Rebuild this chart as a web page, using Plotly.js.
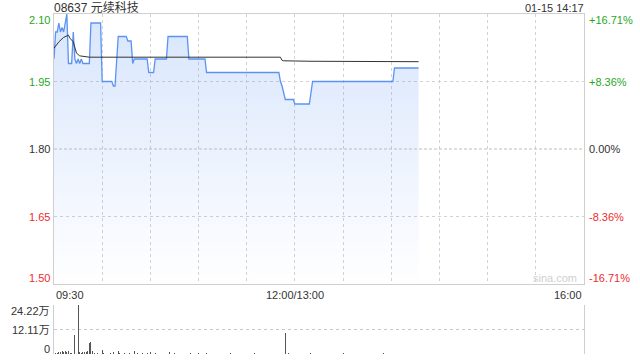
<!DOCTYPE html>
<html>
<head>
<meta charset="utf-8">
<script src="https://cdn.plot.ly/plotly-3.0.1.min.js"></script>
<style>html,body{margin:0;padding:0;background:#fff;}#chart{width:640px;height:360px;}</style>
</head>
<body>
<div id="chart"></div>
<script>
// ---- data (minutes since 09:30, lunch break removed; 150 = 12:00/13:00) ----
var title = "08637 元续科技";
var stamp = "01-15 14:17";
var priceMin = [0,1,2,3,4,5,6,7,8,9,11,12,13,14,15,16,17,18,22,23,29,30,36,37,38,40,45,46,48,49,50,58,59,62,63,70,71,83,84,94,95,140,141,142,144,149,150,159,161,211,212,227];
var priceVal = [2.00,2.06,2.06,2.08,2.06,2.07,2.06,2.08,2.10,1.99,1.99,2.06,2.00,1.99,2.00,1.99,2.00,1.99,1.99,2.08,2.08,1.95,1.95,1.94,1.94,2.05,2.05,2.04,2.04,1.99,2.00,2.00,1.97,1.97,2.00,2.00,2.05,2.05,2.00,2.00,1.97,1.97,1.95,1.94,1.91,1.91,1.90,1.90,1.95,1.95,1.98,1.98];
var avgMin = [0,3,6,9,10,12,14,16,22,141,142,143,160,227];
var avgVal = [2.024,2.038,2.048,2.053,2.046,2.038,2.013,2.007,2.004,2.004,1.997,1.996,1.995,1.994];
var volMin = [0,1,2,3,4,5,6,7,8,9,10,11,13,15,16,17,18,19,20,21,22,23,24,25,27,30,31,33,35,37,40,41,44,47,50,52,55,58,60,63,66,72,75,80,85,90,95,100,105,110,115,120,125,130,135,140,144,146,150,155,160,165,170,175,180,185,190,195,200,205,210,215,220,225];
var volVal = [1.3,0.6,0.5,1.0,1.2,1.5,0.8,1.7,1.1,1.4,0.7,0.4,9.3,24.22,1.0,0.6,0.8,1.2,0.9,1.5,5.3,6.1,1.6,0.7,0.5,2.2,0.4,0.6,0.5,0.8,1.6,0.5,0.4,0.5,1.5,0.3,0.4,0.5,0.8,0.4,0.3,1.1,0.3,0.2,0.3,0.3,0.4,0.2,0.2,0.3,0.2,0.2,0.3,0.2,0.2,0.2,10.2,0.3,0.2,0.2,0.3,0.2,0.2,0.2,0.3,0.2,0.2,0.2,0.2,0.3,0.2,0.2,0.2,0.2];
var priceTicks = [2.10,1.95,1.80,1.65,1.50];
var pctTicks = ["+16.71%","+8.36%","0.00%","-8.36%","-16.71%"];
var volTicks = [24.22,12.11,0];
var volTickText = ["24.22万","12.11万","0"];
var timeTickVals = [0,150,330];
var timeTickText = ["09:30","12:00/13:00","16:00"];
var prevClose = 1.80;

var GREEN = "#1fa81f", RED = "#ee2b2b", DARK = "#333";
var FONT = "Liberation Sans, Arial, Noto Sans CJK SC, sans-serif";

var gridVals = [];
for (var g = 0; g <= 330; g += 30) gridVals.push(g);

var traces = [
  {x: priceMin, y: priceVal, type: "scatter", mode: "lines", xaxis: "x", yaxis: "y",
   line: {color: "#5b93f3", width: 1.3}, fill: "tozeroy",
   fillgradient: {type: "vertical", start: 1.50, stop: 2.10,
     colorscale: [[0, "rgba(91,147,243,0.0)"], [1, "rgba(91,147,243,0.24)"]]},
   hoverinfo: "skip"},
  {x: avgMin, y: avgVal, type: "scatter", mode: "lines", xaxis: "x", yaxis: "y",
   line: {color: "#333", width: 1}, hoverinfo: "skip"},
  {x: volMin, y: volVal, type: "bar", xaxis: "x2", yaxis: "y2", width: 0.6,
   marker: {color: "#555", line: {width: 0}}, hoverinfo: "skip"}
];

var annotations = [];
function col(v){ return v > prevClose + 1e-9 ? GREEN : (v < prevClose - 1e-9 ? RED : DARK); }
priceTicks.forEach(function(v, i){
  var ys = i === 0 ? -6 : (i === priceTicks.length - 1 ? 6 : 0);
  annotations.push({xref: "paper", x: 0, xanchor: "right", xshift: -2, yref: "y", y: v, yanchor: "middle", yshift: ys,
    text: v.toFixed(2), showarrow: false, font: {family: FONT, size: 11, color: col(v)}});
  annotations.push({xref: "paper", x: 1, xanchor: "left", xshift: 3, yref: "y", y: v, yanchor: "middle", yshift: ys,
    text: pctTicks[i], showarrow: false, font: {family: FONT, size: 11, color: col(v)}});
});
volTicks.forEach(function(v, i){
  var ys = i === 0 ? -6 : (i === volTicks.length - 1 ? 5 : 0);
  annotations.push({xref: "paper", x: 0, xanchor: "right", xshift: -2, yref: "y2", y: v, yanchor: "middle", yshift: ys,
    text: volTickText[i], showarrow: false, font: {family: FONT, size: 11, color: DARK}});
});
timeTickVals.forEach(function(v, i){
  var anc = i === 0 ? "left" : (i === timeTickVals.length - 1 ? "right" : "center");
  annotations.push({xref: "x", x: v, xanchor: anc, yref: "paper", y: 0.2059, yanchor: "middle", yshift: -11,
    text: timeTickText[i], showarrow: false, font: {family: FONT, size: 11, color: DARK}});
});
annotations.push({xref: "paper", x: 0, xanchor: "left", yref: "paper", y: 1, yanchor: "middle", yshift: 6, xshift: -2,
  text: title, showarrow: false, font: {family: FONT, size: 12, color: DARK}});
annotations.push({xref: "paper", x: 1, xanchor: "right", yref: "paper", y: 1, yanchor: "middle", yshift: 6, xshift: 2,
  text: stamp, showarrow: false, font: {family: FONT, size: 11, color: DARK}});
annotations.push({xref: "paper", x: 0.945, xanchor: "center", yref: "y", y: 1.50, yanchor: "middle", yshift: 6,
  text: "sina.com", showarrow: false, font: {family: FONT, size: 11, color: "#cfcfcf"}});

var layout = {
  width: 640, height: 360,
  margin: {l: 54, r: 56, t: 14, b: 6, pad: 0},
  paper_bgcolor: "#fff", plot_bgcolor: "rgba(0,0,0,0)",
  showlegend: false,
  xaxis: {domain: [0, 1], range: [0, 330], tickvals: gridVals, showticklabels: false, ticks: "",
    showgrid: true, gridcolor: "#d2d2d2", griddash: "dot", gridwidth: 1,
    showline: true, mirror: true, linecolor: "#cfcfcf", linewidth: 1, zeroline: false, fixedrange: true, anchor: "y"},
  yaxis: {domain: [0.2059, 1], range: [1.50, 2.10], tickvals: [1.65, 1.95], showticklabels: false, ticks: "",
    showgrid: true, gridcolor: "#d2d2d2", griddash: "dot", gridwidth: 1,
    showline: true, mirror: true, linecolor: "#cfcfcf", linewidth: 1, zeroline: false, anchor: "x"},
  xaxis2: {domain: [0, 1], range: [0, 330], showticklabels: false, ticks: "", showgrid: false,
    showline: false, zeroline: false, anchor: "y2"},
  yaxis2: {domain: [0, 0.1441], range: [0, 24.22], tickvals: volTicks, showticklabels: false, ticks: "",
    showgrid: true, gridcolor: "#c8c8c8", griddash: "dot", gridwidth: 1,
    showline: true, mirror: true, linecolor: "#cfcfcf", linewidth: 1, zeroline: false, anchor: "x2"},
  shapes: [
    {type: "line", xref: "paper", x0: 0, x1: 1, yref: "y", y0: prevClose, y1: prevClose,
     line: {color: "#bdbdbd", width: 1, dash: "3px,2px"}}
  ],
  annotations: annotations,
  bargap: 0
};

Plotly.newPlot("chart", traces, layout, {staticPlot: true, displayModeBar: false});
</script>
</body>
</html>
